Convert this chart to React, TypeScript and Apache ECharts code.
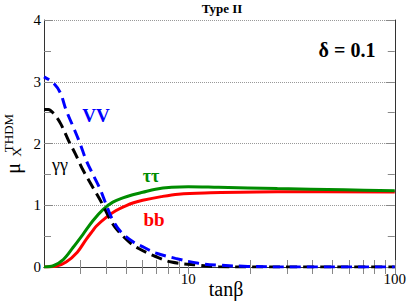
import React, { useEffect, useRef } from "react";
import * as echarts from "echarts";

// tanβ values and μ values
const vvTan = [2.0, 2.22, 2.4, 2.56, 2.77, 2.99, 3.2, 3.45, 3.73, 3.98, 4.26, 4.71, 5.44, 6.0, 6.94, 8.66, 11.2, 14, 19.4, 30, 100];
const vvMu = [3.08, 2.98, 2.82, 2.54, 2.27, 2.0, 1.73, 1.5, 1.27, 1.03, 0.79, 0.57, 0.4, 0.33, 0.23, 0.14, 0.06, 0.03, 0.01, 0, 0];

const ggTan = [2.0, 2.1, 2.22, 2.4, 2.62, 2.83, 3.09, 3.38, 3.82, 4.12, 4.45, 5.15, 5.75, 6.94, 8.28, 11.2, 14, 20, 100];
const ggMu = [2.55, 2.55, 2.49, 2.33, 2.06, 1.84, 1.57, 1.34, 1.03, 0.81, 0.63, 0.41, 0.3, 0.17, 0.08, 0.03, 0.005, 0, 0];

const ttTan = [2.0, 2.22, 2.48, 2.77, 3.09, 3.45, 3.86, 4.31, 4.82, 5.38, 6.01, 6.94, 8.3, 10, 14, 27, 57, 100];
const ttMu = [0, 0.02, 0.12, 0.32, 0.53, 0.75, 0.93, 1.05, 1.12, 1.17, 1.21, 1.26, 1.29, 1.3, 1.29, 1.27, 1.25, 1.235];

const bbTan = [2.0, 2.28, 2.56, 2.9, 3.19, 3.43, 3.58, 3.99, 4.45, 4.98, 5.43, 6.01, 7.4, 8.95, 12, 27, 100];
const bbMu = [0, 0.01, 0.08, 0.24, 0.44, 0.58, 0.66, 0.8, 0.91, 0.99, 1.04, 1.08, 1.14, 1.18, 1.2, 1.22, 1.215];

const xTickValues = [3, 4, 5, 6, 7, 8, 9, 10, 20, 30, 40, 50, 60, 70, 80, 90, 100];
const xLabelValues = [10, 100];
const xMin = 2;
const xMax = 100;
const yMin = 0;
const yMax = 4;
const yInterval = 1;

const SERIF = "Liberation Serif";

const pairs = (xs: number[], ys: number[]) => xs.map((x, i) => [x, ys[i]]);

export default function App() {
  const ref = useRef<HTMLDivElement>(null);
  useEffect(() => {
    document.body.style.margin = "0";
    const chart = echarts.init(ref.current!, null, { renderer: "svg" });
    const xBase = (position: "bottom" | "top", labels: boolean) => ({
      type: "log",
      logBase: 10,
      min: xMin,
      max: xMax,
      position,
      axisLine: { show: true, lineStyle: { color: "#333", width: 1 } },
      axisTick: {
        show: true,
        inside: true,
        length: 7,
        customValues: xTickValues,
        lineStyle: { color: "#888", width: 1 },
      },
      minorTick: { show: false },
      splitLine: { show: false },
      axisLabel: labels
        ? {
            show: true,
            customValues: xLabelValues,
            formatter: (v: number) => String(Math.round(v)),
            color: "#000",
            fontFamily: SERIF,
            fontSize: 15,
            margin: 4,
          }
        : { show: false },
    });
    const yBase = (position: "left" | "right", labels: boolean) => ({
      type: "value",
      min: yMin,
      max: yMax,
      interval: yInterval,
      position,
      axisLine: { show: true, lineStyle: { color: "#333", width: 1 } },
      axisTick: { show: true, inside: true, length: 9, lineStyle: { color: "#888" } },
      minorTick: { show: true, splitNumber: 2, length: 7, lineStyle: { color: "#888" } },
      splitLine: labels
        ? { show: true, lineStyle: { type: "dotted", color: "#999", width: 1 } }
        : { show: false },
      axisLabel: labels
        ? { show: true, color: "#000", fontFamily: SERIF, fontSize: 15, margin: 3 }
        : { show: false },
    });
    const lineBase = { type: "line", smooth: 0.35, showSymbol: false };
    const txt = (
      x: number,
      y: number,
      text: string,
      fontSize: number,
      fontWeight: string,
      fill: string,
      rotation = 0
    ) => ({
      type: "text",
      x,
      y,
      rotation,
      style: { text, fontSize, fontWeight, fontFamily: SERIF, fill, align: "center", verticalAlign: "middle" },
    });
    const option: any = {
      animation: false,
      backgroundColor: "#fff",
      grid: { left: 44, right: 11, top: 20, bottom: 38, containLabel: false },
      xAxis: [xBase("bottom", true), xBase("top", false)],
      yAxis: [yBase("left", true), yBase("right", false)],
      series: [
        { ...lineBase, name: "bb", data: pairs(bbTan, bbMu), lineStyle: { color: "#ff0000", width: 3 } },
        { ...lineBase, name: "ττ", data: pairs(ttTan, ttMu), lineStyle: { color: "#008c00", width: 3 } },
        {
          ...lineBase,
          name: "γγ",
          data: pairs(ggTan, ggMu),
          lineStyle: { color: "#000000", width: 3, type: [11, 6] },
        },
        {
          ...lineBase,
          name: "VV",
          data: pairs(vvTan, vvMu),
          lineStyle: { color: "#0000ff", width: 3, type: [11, 6], dashOffset: 5 },
        },
      ],
      graphic: [
        txt(222, 8, "Type II", 13, "bold", "#000"),
        txt(347, 50, "δ = 0.1", 20, "bold", "#000"),
        txt(96, 115, "VV", 19, "bold", "#0000ff"),
        txt(60, 165, "γγ", 18, "normal", "#000"),
        txt(151, 176, "ττ", 18, "bold", "#008c00"),
        txt(154, 219, "bb", 19, "bold", "#ff0000"),
        txt(226, 289, "tanβ", 20, "normal", "#000"),
        txt(12.5, 168.5, "μ", 20, "normal", "#000", Math.PI / 2),
        txt(16.5, 152, "X", 13, "normal", "#000", Math.PI / 2),
        txt(8.5, 133, "THDM", 13, "normal", "#000", Math.PI / 2),
      ],
    };
    chart.setOption(option);
    return () => chart.dispose();
  }, []);
  return <div ref={ref} style={{ width: 409, height: 305 }} />;
}
